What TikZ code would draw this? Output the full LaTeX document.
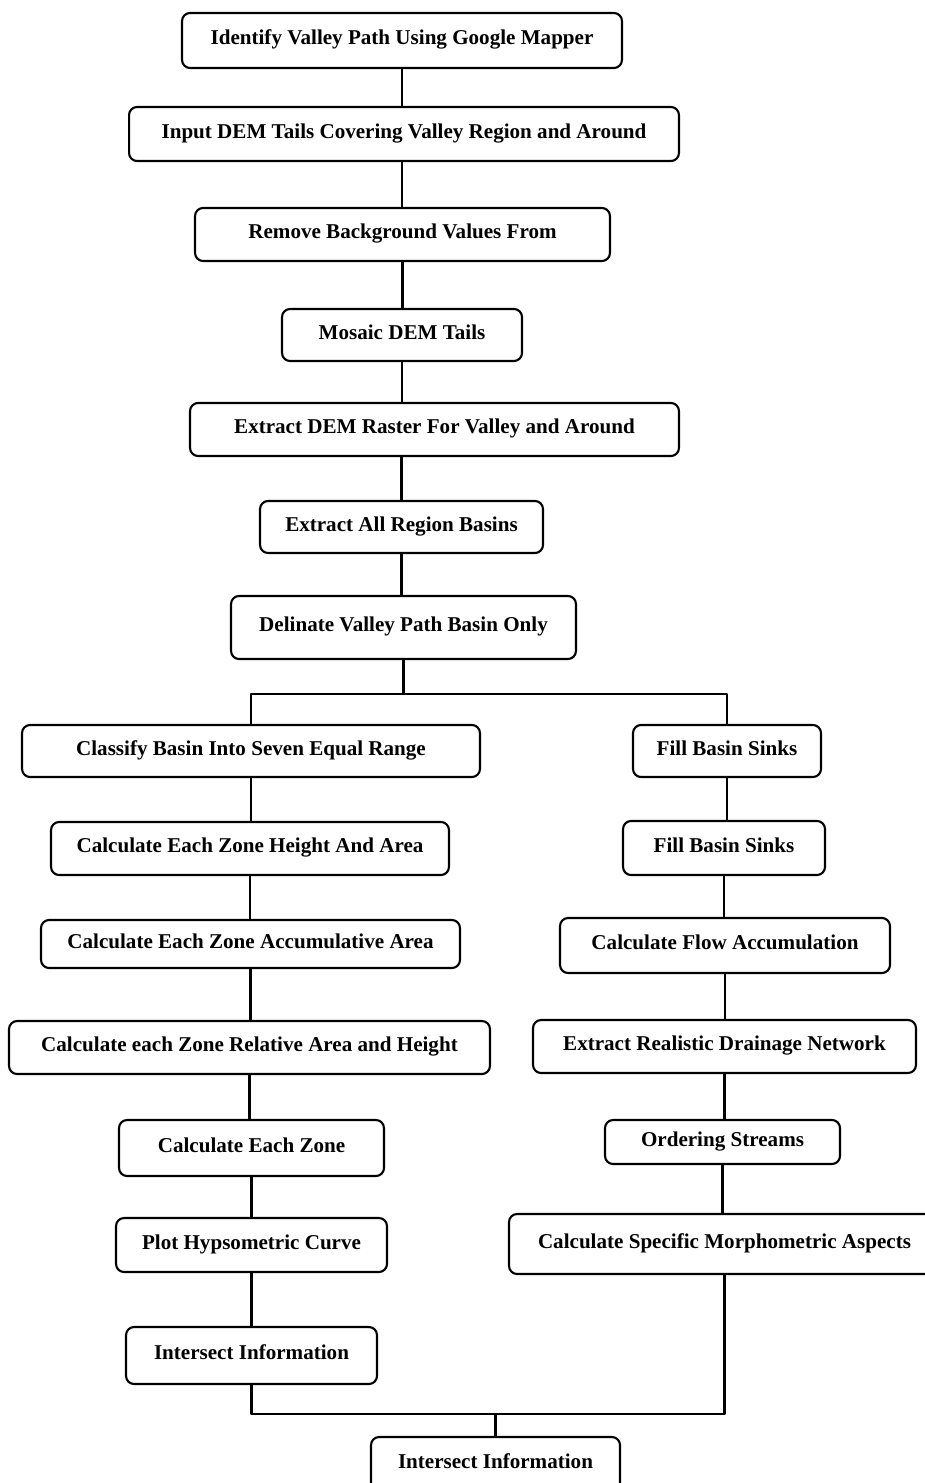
\documentclass[tikz,border=0pt]{standalone}
\usepackage{fontspec}
\setmainfont{Liberation Serif}
\usetikzlibrary{positioning}

\tikzset{
  stepbox/.style={draw, line width=1.2pt, rounded corners=0.16cm, inner sep=0pt,
    font=\fontsize{12}{14}\selectfont\bfseries, text height=9pt, text depth=4.3pt},
  link/.style={line width=1.2pt}
}

\begin{document}
\begin{tikzpicture}[line cap=round,line join=round,x=0.02cm,y=-0.02cm]
      \useasboundingbox (0,0) rectangle (925,1483);
      % main column
      \node[stepbox,minimum width=8.8cm,minimum height=1.1cm] (n1) at (402,40.5) {Identify Valley Path Using Google Mapper};
      \node[stepbox,minimum width=11cm,minimum height=1.08cm] (n2) at (404,134) {Input DEM Tails Covering Valley Region and Around};
      \node[stepbox,minimum width=8.3cm,minimum height=1.06cm] (n3) at (402.5,234.5) {Remove Background Values From};
      \node[stepbox,minimum width=4.8cm,minimum height=1.04cm] (n4) at (402,335) {Mosaic DEM Tails};
      \node[stepbox,minimum width=9.78cm,minimum height=1.06cm] (n5) at (434.5,429.5) {Extract DEM Raster For Valley and Around};
      \node[stepbox,minimum width=5.66cm,minimum height=1.04cm] (n6) at (401.5,527) {Extract All Region Basins};
      \node[stepbox,minimum width=6.9cm,minimum height=1.26cm] (n7) at (403.5,627.5) {Delinate Valley Path Basin Only};
      \coordinate (split) at (402,694);
      % left branch
      \node[stepbox,minimum width=9.16cm,minimum height=1.04cm] (l1) at (251,751) {Classify Basin Into Seven Equal Range};
      \node[stepbox,minimum width=7.96cm,minimum height=1.06cm] (l2) at (250,848.5) {Calculate Each Zone Height And Area};
      \node[stepbox,minimum width=8.38cm,minimum height=0.96cm] (l3) at (250.5,944) {Calculate Each Zone Accumulative Area};
      \node[stepbox,minimum width=9.62cm,minimum height=1.06cm] (l4) at (249.5,1047.5) {Calculate each Zone Relative Area and Height};
      \node[stepbox,minimum width=5.3cm,minimum height=1.12cm] (l5) at (251.5,1148) {Calculate Each Zone};
      \node[stepbox,minimum width=5.42cm,minimum height=1.08cm] (l6) at (251.5,1245) {Plot Hypsometric Curve};
      \node[stepbox,minimum width=5.02cm,minimum height=1.14cm] (l7) at (251.5,1355.5) {Intersect Information};
      % right branch
      \node[stepbox,minimum width=3.76cm,minimum height=1.04cm] (r1) at (727,751) {Fill Basin Sinks};
      \node[stepbox,minimum width=4.04cm,minimum height=1.08cm] (r2) at (724,848) {Fill Basin Sinks};
      \node[stepbox,minimum width=6.6cm,minimum height=1.1cm] (r3) at (725,945.5) {Calculate Flow Accumulation};
      \node[stepbox,minimum width=7.66cm,minimum height=1.06cm] (r4) at (724.5,1046.5) {Extract Realistic Drainage Network};
      \node[stepbox,minimum width=4.7cm,minimum height=0.88cm] (r5) at (722.5,1142) {Ordering Streams};
      \node[stepbox,minimum width=8.62cm,minimum height=1.2cm] (r6) at (724.5,1244) {Calculate Specific Morphometric Aspects};
      % end
      \coordinate (join) at (494,1414);
      \node[stepbox,minimum width=4.98cm,minimum height=1.1cm] (fin) at (495.5,1464.5) {Intersect Information};

      \draw[link] (n1.south) -- (n1.south |- n2.north);
      \draw[link] (n1.south |- n2.south) -- (n1.south |- n3.north);
      \draw[link] (n3.south) -- (n3.south |- n4.north);
      \draw[link] (n4.south) -- (n4.south |- n5.north);
      \draw[link] (n6.north |- n5.south) -- (n6.north);
      \draw[link] (n6.south) -- (n6.south |- n7.north);
      \draw[link] (n7.south) -- (n7.south |- split);
      \draw[link] (l1.north) |- (split) -| (r1.north);
      \draw[link] (l1.south) -- (l1.south |- l2.north);
      \draw[link] (l2.south) -- (l2.south |- l3.north);
      \draw[link] (l3.south) -- (l3.south |- l4.north);
      \draw[link] (l4.south) -- (l4.south |- l5.north);
      \draw[link] (l5.south) -- (l5.south |- l6.north);
      \draw[link] (l6.south) -- (l6.south |- l7.north);
      \draw[link] (r1.south) -- (r1.south |- r2.north);
      \draw[link] (r2.south) -- (r2.south |- r3.north);
      \draw[link] (r3.south) -- (r3.south |- r4.north);
      \draw[link] (r4.south) -- (r4.south |- r5.north);
      \draw[link] (r5.south) -- (r5.south |- r6.north);
      \draw[link] (l7.south) |- (join) -| (r6.south);
      \draw[link] (fin.north |- join) -- (fin.north);
\end{tikzpicture}
\end{document}
